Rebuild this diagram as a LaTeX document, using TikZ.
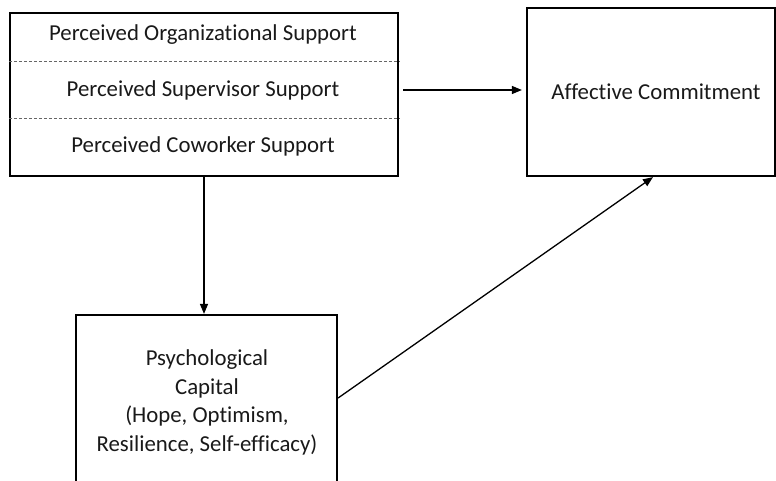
\documentclass[tikz,border=0pt]{standalone}
\usepackage{fontspec}
\setmainfont[Ligatures=NoCommon]{Carlito}
\usetikzlibrary{arrows.meta,calc}
\begin{document}
\begin{tikzpicture}[x=1pt,y=-1pt,
  box/.style={draw=black,line width=2.2pt,inner sep=0pt},
  lbl/.style={font=\fontsize{22.8}{28.5}\selectfont,text=black!90,align=center,inner sep=0pt},
  divider/.style={draw=black!60,line width=0.8pt,dash pattern=on 3pt off 2pt},
  arr/.style={draw=black,line width=1.3pt,-{Triangle[length=10pt,width=8pt]}}]
\useasboundingbox (0,0) rectangle (776,481);
\clip (0,0) rectangle (776,481);
% top-left box
\node[box,minimum width=388pt,minimum height=163pt] (sup3) at (204,94.5) {};
\node[lbl] (pos) at (203,35) {Perceived Organizational Support};
\node[lbl] (pss) at (203,90) {Perceived Supervisor Support};
\node[lbl] (pcs) at (203,146) {Perceived Coworker Support};
\draw[divider] (sup3.west |- 0,61) -- (sup3.east |- 0,61);
\draw[divider] (sup3.west |- 0,118) -- (sup3.east |- 0,118);
% affective commitment
\node[box,minimum width=248pt,minimum height=168pt] (aff) at (651,92) {};
\node[lbl] (afft) at (656,92) {Affective Commitment};
% psychological capital
\node[box,minimum width=261pt,minimum height=170pt] (psy) at (206.5,400) {};
\node[lbl] (psyt) at (207,402.5) {Psychological\\Capital\\(Hope, Optimism,\\Resilience, Self-efficacy)};
% connectors
\draw[arr,shorten <=4pt,shorten >=4pt] (pss.center -| sup3.east) -- (pss.center -| aff.west);
\draw[arr] (sup3.south) -- (sup3.south |- psy.north);
\draw[arr] ([yshift=2pt]psy.east) -- ([xshift=2pt]aff.south);
\end{tikzpicture}
\end{document}
